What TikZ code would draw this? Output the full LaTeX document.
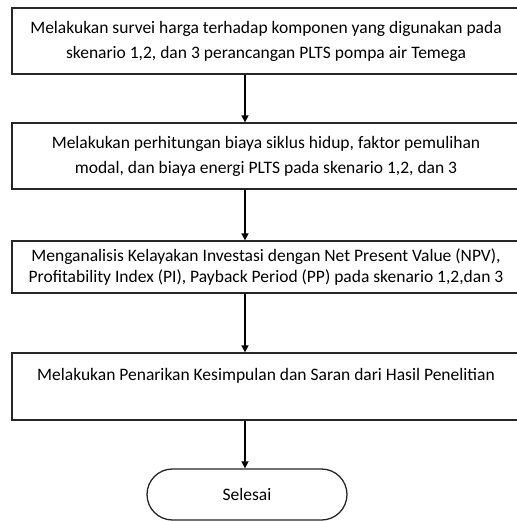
\documentclass[tikz,border=0pt]{standalone}
\usepackage{fontspec}
\setmainfont{Carlito}
\usetikzlibrary{shapes.misc,arrows.meta}
\begin{document}
\begin{tikzpicture}[x=1pt,y=-1pt,
  box/.style={draw=black!85,line width=1.3pt,rectangle,minimum width=508pt,align=center,inner sep=0pt,font=\fontsize{17.5}{25}\selectfont},
  term/.style={draw=black!85,line width=1.3pt,rounded rectangle,minimum width=200pt,minimum height=51pt,inner sep=0pt,font=\fontsize{17.5}{25}\selectfont},
  conn/.style={line width=1.5pt,-{Triangle[length=7pt,width=7pt]}}]
\useasboundingbox (0,0) rectangle (516,521);
\fill[white] (0,0) rectangle (516,521);
\coordinate (ax) at (245,0);
\node[box,minimum height=66pt] (b1) at (266,41) {Melakukan survei harga terhadap komponen yang digunakan pada\\skenario 1,2, dan 3 perancangan PLTS pompa air Temega};
\node[box,minimum height=66pt] (b2) at (266,156) {Melakukan perhitungan biaya siklus hidup, faktor pemulihan\\modal, dan biaya energi PLTS pada skenario 1,2, dan 3};
\node[box,minimum height=52pt,font=\fontsize{17.5}{21.5}\selectfont] (b3) at (266,267) {Menganalisis Kelayakan Investasi dengan Net Present Value (NPV),\\Profitability Index (PI), Payback Period (PP) pada skenario 1,2,dan 3};
\node[box,minimum height=67pt] (b4) at (266,386.5) {Melakukan Penarikan Kesimpulan dan Saran dari Hasil Penelitian\\\mbox{}};
\node[term] (t) at (247,494.5) {Selesai};
\draw[conn] (b1.south -| ax) -- (b2.north -| ax);
\draw[conn] (b2.south -| ax) -- (b3.north -| ax);
\draw[conn] (b3.south -| ax) -- (b4.north -| ax);
\draw[conn] (b4.south -| ax) -- (t.north -| ax);
\end{tikzpicture}
\end{document}
